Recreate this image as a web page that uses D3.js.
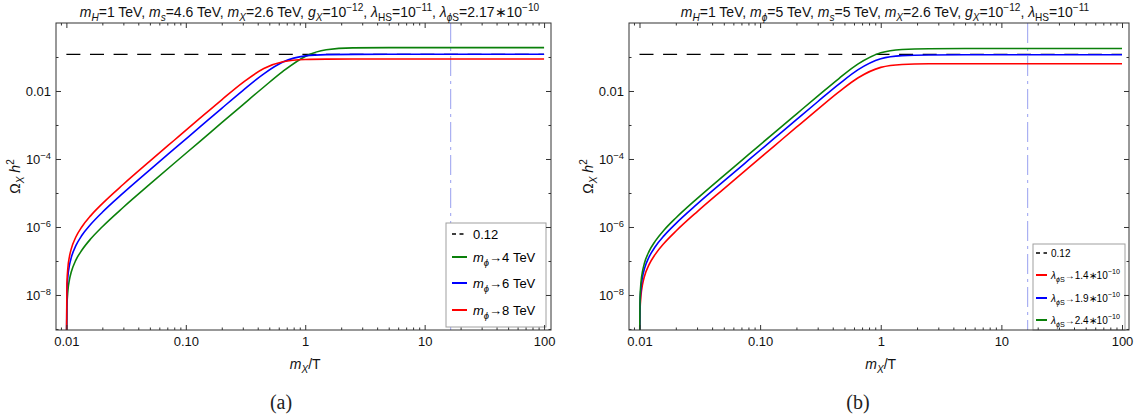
<!DOCTYPE html>
<html>
<head>
<meta charset="utf-8">
<script src="https://cdn.jsdelivr.net/npm/d3@7"></script>
<style>
body { margin: 0; background: #fff; }
svg { font-family: "Liberation Sans", Arial, sans-serif; }
</style>
</head>
<body>
<svg id="fig" width="1145" height="415"></svg>
<script>

// values ----------------------------------------------------
var xs = [0.01, 0.0101, 0.0103, 0.0106, 0.011, 0.012, 0.0135, 0.016, 0.02, 0.03, 0.05, 0.08, 0.13, 0.2, 0.3, 0.45, 0.65, 1, 1.5, 2.5, 5, 10, 100]

// panel (a): m_phi -> 4, 6, 8 TeV
var aGreen = [1e-10, 4.4e-9, 1.35e-8, 2.8e-8, 4.8e-8, 1.06e-7, 2.1e-7, 4.5e-7, 1.02e-6, 3.8e-6, 1.81e-5, 7.5e-5, 3.2e-4, 1.17e-3, 3.93e-3, 0.0131, 0.0378, 0.104, 0.164, 0.186, 0.189, 0.189, 0.189]
var aBlue  = [1e-10, 1.18e-8, 3.6e-8, 7.4e-8, 1.28e-7, 2.82e-7, 5.7e-7, 1.2e-6, 2.72e-6, 1.01e-5, 4.81e-5, 1.98e-4, 8.5e-4, 3.1e-3, 0.0103, 0.0320, 0.0708, 0.108, 0.1176, 0.1196, 0.120, 0.120, 0.120]
var aRed   = [1e-10, 2.1e-8, 6.5e-8, 1.33e-7, 2.31e-7, 5.07e-7, 1.02e-6, 2.16e-6, 4.88e-6, 1.81e-5, 8.64e-5, 3.56e-4, 1.53e-3, 5.51e-3, 0.0176, 0.0458, 0.0725, 0.0845, 0.0866, 0.087, 0.087, 0.087, 0.087]

// panel (b): lambda_phiS -> 1.4, 1.9, 2.4 e-10
var bRed   = [1e-10, 3.3e-9, 1.0e-8, 2.05e-8, 3.56e-8, 7.8e-8, 1.57e-7, 3.33e-7, 7.5e-7, 2.8e-6, 1.33e-5, 5.5e-5, 2.36e-4, 8.6e-4, 2.88e-3, 9.4e-3, 0.0245, 0.0495, 0.0604, 0.0630, 0.0634, 0.0634, 0.0634]
var bBlue  = [1e-10, 5.45e-9, 1.67e-8, 3.44e-8, 5.96e-8, 1.31e-7, 2.63e-7, 5.57e-7, 1.26e-6, 4.68e-6, 2.23e-5, 9.2e-5, 3.95e-4, 1.44e-3, 4.83e-3, 0.0159, 0.0425, 0.0885, 0.1100, 0.1150, 0.116, 0.116, 0.116]
var bGreen = [1e-10, 8.0e-9, 2.44e-8, 5.0e-8, 8.7e-8, 1.92e-7, 3.84e-7, 8.15e-7, 1.84e-6, 6.84e-6, 3.26e-5, 1.34e-4, 5.78e-4, 2.1e-3, 7.06e-3, 0.0233, 0.0625, 0.1330, 0.167, 0.1757, 0.177, 0.177, 0.177]

var relic = 0.12        // dashed line
var xFreeze = 16.5      // dot-dashed vertical line

var xTicks = [0.01, 0.1, 1, 10, 100]
var xTickLabels = ["0.01", "0.10", "1", "10", "100"]
var yTicks = [1e-2, 1e-4, 1e-6, 1e-8]
var yTickBase = ["0.01", "10", "10", "10"]
var yTickExp  = ["", "−4", "−6", "−8"]
var yMinor = [1e-1, 1e-3, 1e-5, 1e-7, 1e-9]

var xDomain = [Math.pow(10, -2.087), Math.pow(10, 2.058)]
var yDomain = [Math.pow(10, -9.03), 1]

// colours
var cRed = "#ff0000", cBlue = "#0000ff", cGreen = "#0a800a"

// ------------------------------------------------------------

var svg = d3.select("#fig")

// writes text made of pieces: [string, "i sub" / "sup" / ...]
function rich(sel, segs, size) {
	var shift = 0
	segs.forEach(function(s) {
		var st = (s[1] || "").split(" ")
		var ns = st.indexOf("sub") >= 0 ? size * 0.32 : st.indexOf("sup") >= 0 ? -size * 0.42 : 0
		var t = sel.append("tspan").text(s[0]).attr("dy", ns - shift)
		shift = ns
		if (st.indexOf("i") >= 0) t.attr("font-style", "italic")
		if (ns) t.attr("font-size", size * 0.72)
	})
	return sel
}

function panel(cfg) {

	var g = svg.append("g")

	var x = d3.scaleLog().domain(xDomain).range([cfg.left, cfg.right])
	var y = d3.scaleLog().domain(yDomain).range([cfg.bottom, cfg.top])

	var clipId = "clip" + cfg.id
	g.append("clipPath").attr("id", clipId)
		.append("rect")
		.attr("x", cfg.left).attr("y", cfg.top)
		.attr("width", cfg.right - cfg.left).attr("height", cfg.bottom - cfg.top)

	var plot = g.append("g").attr("clip-path", "url(#" + clipId + ")")

	// vertical dot-dashed line
	plot.append("line")
		.attr("x1", x(xFreeze)).attr("x2", x(xFreeze))
		.attr("y1", cfg.top).attr("y2", cfg.bottom)
		.attr("stroke", "#aab0f2").attr("stroke-width", 1.2)
		.attr("stroke-dasharray", "20,5,3,5")

	// 0.12 dashed line
	plot.append("line")
		.attr("x1", x(0.01)).attr("x2", x(100))
		.attr("y1", y(relic)).attr("y2", y(relic))
		.attr("stroke", "#000").attr("stroke-width", 1.2)
		.attr("stroke-dasharray", "14,9.6")

	var line = d3.line()
		.x(d => x(d[0]))
		.y(d => y(d[1]))
		.curve(d3.curveMonotoneX)

	plot.selectAll("path.curve")
		.data(cfg.series)
	.enter().append("path")
		.attr("class", "curve")
		.attr("fill", "none")
		.attr("stroke", d => d.color)
		.attr("stroke-width", 1.6)
		.attr("d", d => line(xs.map((v, i) => [v, d.values[i]])))

	// legend
	var L = cfg.legend
	var lg = g.append("g")
	lg.append("rect")
		.attr("x", L.x).attr("y", L.y).attr("width", L.w).attr("height", L.h)
		.attr("fill", "#fff").attr("stroke", "#a0a0a0").attr("stroke-width", 1)

	var items = [{color: "#000", dash: true, label: [["0.12"]]}].concat(cfg.series)
	items.forEach(function(d, i) {
		var yy = L.rows[i]
		lg.append("line")
			.attr("x1", L.sx).attr("x2", L.sx + L.sw)
			.attr("y1", yy).attr("y2", yy)
			.attr("stroke", d.color).attr("stroke-width", d.dash ? 1.6 : 2)
			.attr("stroke-dasharray", d.dash ? "4,3.5" : null)
		rich(lg.append("text")
			.attr("x", L.tx).attr("y", yy + L.fs * 0.36)
			.attr("font-size", L.fs), d.label, L.fs)
	})

	// frame and ticks, pointing inward
	var frame = g.append("g").attr("color", "#333")

	var minorX = []
	for (var e = -3; e <= 2; e++)
		for (var k = 2; k <= 9; k++) {
			var v = k * Math.pow(10, e)
			if (v > xDomain[0] && v < xDomain[1]) minorX.push(v)
		}

	function strip(a) { a.select(".domain").remove() }

	frame.append("g").attr("transform", `translate(0,${cfg.bottom})`)
		.call(d3.axisBottom(x).tickValues(xTicks).tickSize(-5).tickPadding(7)
			.tickFormat((d, i) => xTickLabels[i]))
		.call(strip)
		.selectAll("text").attr("font-size", 13).attr("fill", "#111")
		.attr("font-family", "Liberation Sans, Arial, sans-serif")

	frame.append("g").attr("transform", `translate(0,${cfg.bottom})`)
		.call(d3.axisBottom(x).tickValues(minorX).tickSize(-2.5).tickFormat(""))
		.call(strip)

	frame.append("g").attr("transform", `translate(0,${cfg.top})`)
		.call(d3.axisTop(x).tickValues(xTicks).tickSize(-5).tickFormat(""))
		.call(strip)

	frame.append("g").attr("transform", `translate(0,${cfg.top})`)
		.call(d3.axisTop(x).tickValues(minorX).tickSize(-2.5).tickFormat(""))
		.call(strip)

	frame.append("g").attr("transform", `translate(${cfg.left},0)`)
		.call(d3.axisLeft(y).tickValues(yTicks).tickSize(-5).tickFormat(""))
		.call(strip)

	frame.append("g").attr("transform", `translate(${cfg.left},0)`)
		.call(d3.axisLeft(y).tickValues(yMinor).tickSize(-2.5).tickFormat(""))
		.call(strip)

	frame.append("g").attr("transform", `translate(${cfg.right},0)`)
		.call(d3.axisRight(y).tickValues(yTicks).tickSize(-5).tickFormat(""))
		.call(strip)

	frame.append("g").attr("transform", `translate(${cfg.right},0)`)
		.call(d3.axisRight(y).tickValues(yMinor).tickSize(-2.5).tickFormat(""))
		.call(strip)

	frame.append("rect")
		.attr("x", cfg.left).attr("y", cfg.top)
		.attr("width", cfg.right - cfg.left).attr("height", cfg.bottom - cfg.top)
		.attr("fill", "none").attr("stroke", "#333").attr("stroke-width", 1)

	// y tick labels with exponents
	yTicks.forEach(function(v, i) {
		var segs = yTickExp[i] ? [[yTickBase[i]], [yTickExp[i], "sup"]] : [[yTickBase[i]]]
		rich(g.append("text")
			.attr("x", cfg.left - 5).attr("y", y(v) + 5)
			.attr("text-anchor", "end").attr("font-size", 13).attr("fill", "#111"), segs, 13)
	})

	// axis titles
	rich(g.append("text")
		.attr("transform", `translate(${cfg.left - 36},${(cfg.top + cfg.bottom) / 2}) rotate(-90)`)
		.attr("text-anchor", "middle").attr("font-size", 14).attr("fill", "#111"),
		[["Ω"], ["X", "i sub"], [" "], ["h", "i"], ["2", "sup"]], 14)

	rich(g.append("text")
		.attr("x", x(1)).attr("y", cfg.bottom + 39)
		.attr("text-anchor", "middle").attr("font-size", 14).attr("fill", "#111"),
		[["m", "i"], ["X", "i sub"], ["/T"]], 14)

	// title
	rich(g.append("text")
		.attr("x", (cfg.left + cfg.right) / 2 + 6).attr("y", cfg.top - 6)
		.attr("text-anchor", "middle").attr("font-size", 14).attr("fill", "#111"),
		cfg.title, 14)

	// caption
	g.append("text")
		.attr("x", cfg.caption).attr("y", 409)
		.attr("text-anchor", "middle")
		.attr("font-family", "Liberation Serif, DejaVu Serif, serif")
		.attr("font-size", 20).attr("fill", "#222")
		.text(cfg.id == "a" ? "(a)" : "(b)")
}

panel({
	id: "a", left: 56, right: 551, top: 23, bottom: 330, caption: 281,
	title: [["m", "i"], ["H", "i sub"], ["=1 TeV, "], ["m", "i"], ["s", "i sub"], ["=4.6 TeV, "],
		["m", "i"], ["X", "i sub"], ["=2.6 TeV, "], ["g", "i"], ["X", "i sub"], ["=10"], ["−12", "sup"],
		[", "], ["λ", "i"], ["HS", "sub"], ["=10"], ["−11", "sup"], [", "],
		["λ", "i"], ["ϕ", "i sub"], ["S", "sub"], ["=2.17∗10"], ["−10", "sup"]],
	series: [
		{values: aGreen, color: cGreen, label: [["m", "i"], ["ϕ", "i sub"], ["→4 TeV"]]},
		{values: aBlue, color: cBlue, label: [["m", "i"], ["ϕ", "i sub"], ["→6 TeV"]]},
		{values: aRed, color: cRed, label: [["m", "i"], ["ϕ", "i sub"], ["→8 TeV"]]}
	],
	legend: {x: 446, y: 223, w: 100, h: 104, sx: 452, sw: 15, tx: 473, fs: 13, rows: [234, 257, 283, 310]}
})

panel({
	id: "b", left: 629, right: 1129, top: 23, bottom: 330, caption: 858,
	title: [["m", "i"], ["H", "i sub"], ["=1 TeV, "], ["m", "i"], ["ϕ", "i sub"], ["=5 TeV, "],
		["m", "i"], ["s", "i sub"], ["=5 TeV, "], ["m", "i"], ["X", "i sub"], ["=2.6 TeV, "],
		["g", "i"], ["X", "i sub"], ["=10"], ["−12", "sup"], [", "],
		["λ", "i"], ["HS", "sub"], ["=10"], ["−11", "sup"]],
	series: [
		{values: bRed, color: cRed, label: [["λ", "i"], ["ϕ", "i sub"], ["S", "sub"], ["→1.4∗10"], ["−10", "sup"]]},
		{values: bBlue, color: cBlue, label: [["λ", "i"], ["ϕ", "i sub"], ["S", "sub"], ["→1.9∗10"], ["−10", "sup"]]},
		{values: bGreen, color: cGreen, label: [["λ", "i"], ["ϕ", "i sub"], ["S", "sub"], ["→2.4∗10"], ["−10", "sup"]]}
	],
	legend: {x: 1033, y: 244, w: 92, h: 86, sx: 1036, sw: 11, tx: 1051, fs: 10, rows: [253, 275, 298, 320]}
})

</script>
</body>
</html>
